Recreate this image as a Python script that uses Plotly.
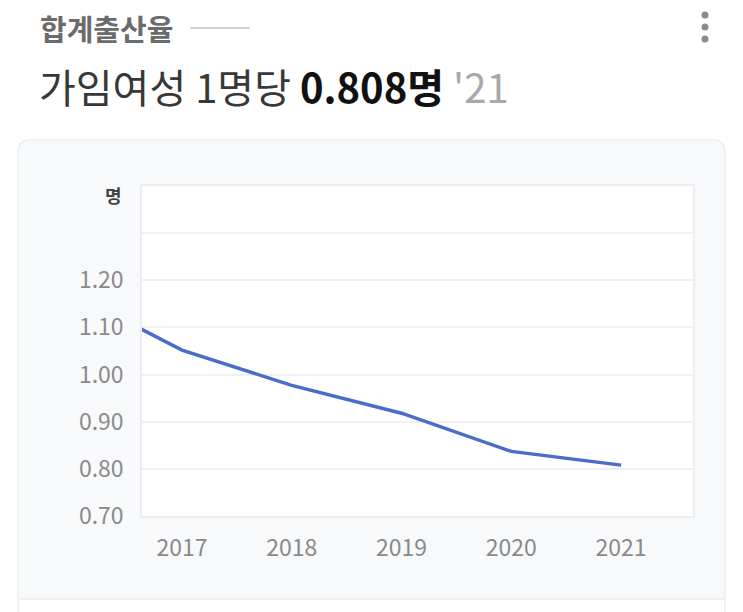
import plotly.graph_objects as go

years = [2016, 2017, 2018, 2019, 2020, 2021]
tfr = [1.172, 1.052, 0.977, 0.918, 0.837, 0.808]
x_ticks = [2017, 2018, 2019, 2020, 2021]
y_ticks = [0.70, 0.80, 0.90, 1.00, 1.10, 1.20, 1.30, 1.40]
y_ticktext = ["0.70", "0.80", "0.90", "1.00", "1.10", "1.20", "", ""]

W, H = 743, 612
L, R, T, B = 142, 50, 186, 96
PW, PH = W - L - R, H - T - B

def px(x):
    return (x - L) / PW

def py(y):
    return (H - B - y) / PH

FONT = "Noto Sans CJK KR, Roboto, sans-serif"

fig = go.Figure()
fig.add_trace(go.Scatter(
    x=years, y=tfr, mode="lines",
    line=dict(color="#4a6cca", width=3.4),
    hoverinfo="skip", showlegend=False,
))

# card with rounded top corners
r = 12
x0, x1, y0, y1 = 18, 725, 140, 660
card = (f"M {px(x0)},{py(y1)} L {px(x0)},{py(y0 + r)} "
        f"Q {px(x0)},{py(y0)} {px(x0 + r)},{py(y0)} "
        f"L {px(x1 - r)},{py(y0)} Q {px(x1)},{py(y0)} {px(x1)},{py(y0 + r)} "
        f"L {px(x1)},{py(y1)} Z")
shapes = [
    dict(type="path", xref="paper", yref="paper", path=card,
         fillcolor="#f8f9fb", line=dict(color="#eceef1", width=1.5), layer="below"),
    dict(type="rect", xref="paper", yref="paper",
         x0=px(19), x1=px(724), y0=py(599), y1=py(660),
         fillcolor="#ffffff", line=dict(width=0), layer="below"),
    dict(type="line", xref="paper", yref="paper",
         x0=px(19), x1=px(724), y0=py(599), y1=py(599),
         line=dict(color="#eef0f3", width=2), layer="below"),
    dict(type="rect", xref="paper", yref="paper",
         x0=0, x1=1, y0=0, y1=1,
         fillcolor="#ffffff", line=dict(width=0), layer="below"),
    # line after the header title
    dict(type="line", xref="paper", yref="paper",
         x0=px(190), x1=px(250), y0=py(28), y1=py(28),
         line=dict(color="#d3d3d3", width=2)),
]
for cy in (15, 27, 39):
    shapes.append(dict(type="circle", xref="paper", yref="paper",
                       x0=px(701.5), x1=px(708.5), y0=py(cy - 3.5), y1=py(cy + 3.5),
                       fillcolor="#8c8c8c", line=dict(width=0)))

annotations = [
    dict(text="<b>합계출산율</b>", xref="paper", yref="paper",
         x=px(38), y=py(28), xanchor="left", yanchor="middle", showarrow=False,
         font=dict(family=FONT, size=29, color="#6b6b6b")),
    dict(text="가임여성 1명당 <b><span style='color:#111111'>0.808명</span></b> <span style='color:#a8a8a8'>'21</span>",
         xref="paper", yref="paper",
         x=px(37), y=py(86), xanchor="left", yanchor="middle", showarrow=False,
         font=dict(family=FONT, size=40, color="#383838")),
    dict(text="<b>명</b>", xref="paper", yref="paper",
         x=px(113), y=py(195), xanchor="center", yanchor="middle", showarrow=False,
         font=dict(family=FONT, size=18, color="#444444")),
]

fig.update_layout(
    width=W, height=H, autosize=False,
    margin=dict(l=L, r=R, t=T, b=B, pad=0),
    paper_bgcolor="#ffffff", plot_bgcolor="rgba(0,0,0,0)",
    shapes=shapes, annotations=annotations,
    xaxis=dict(range=[2016.636, 2021.655], tickvals=x_ticks,
               ticktext=[str(v) for v in x_ticks], showgrid=False, zeroline=False,
               showline=True, linecolor="#eceef1", linewidth=1.5, mirror=True,
               ticks="", ticklabelstandoff=11,
               tickfont=dict(family=FONT, size=23, color="#8a8a8a")),
    yaxis=dict(range=[0.70, 1.40], tickvals=y_ticks, ticktext=y_ticktext,
               showgrid=True, gridcolor="#f0f1f3", gridwidth=1.5, zeroline=False,
               showline=True, linecolor="#eceef1", linewidth=1.5, mirror=True,
               ticks="", ticklabelstandoff=12,
               tickfont=dict(family=FONT, size=23, color="#8a8a8a")),
)

fig.write_html("out.html")
